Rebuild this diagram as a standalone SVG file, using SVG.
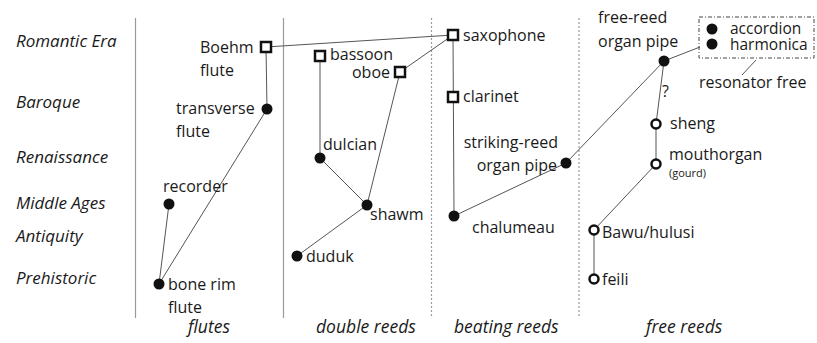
<svg xmlns="http://www.w3.org/2000/svg" width="817" height="343" viewBox="0 0 817 343">
<style>
text{font-family:"Open Sans","Liberation Sans",sans-serif;fill:#1a1a1a;font-size:16px}
.era{font-style:italic;font-size:17px}
.col{font-style:italic;font-size:17.5px}
.sm{font-size:11px}
.acc{font-size:15.5px}
.sep{stroke:#9a9a9a;stroke-width:1.2;fill:none}
.dot{stroke-dasharray:2 2}
.c line{stroke:#555;stroke-width:1}
.sq{fill:#fff;stroke:#111;stroke-width:2.5}
.fc{fill:#111}
.oc{fill:#fff;stroke:#111;stroke-width:2.5}
</style>
<rect width="817" height="343" fill="#fff"/>
<g id="eras">
<text class="era" x="16" y="47">Romantic Era</text>
<text class="era" x="16" y="108">Baroque</text>
<text class="era" x="16" y="163">Renaissance</text>
<text class="era" x="16" y="209">Middle Ages</text>
<text class="era" x="16" y="242">Antiquity</text>
<text class="era" x="16" y="284">Prehistoric</text>
</g>
<g id="separators">
<line class="sep" x1="135.5" y1="18" x2="135.5" y2="318"/>
<line class="sep" x1="283.5" y1="18" x2="283.5" y2="318"/>
<line class="sep dot" x1="431.5" y1="18" x2="431.5" y2="318"/>
<line class="sep dot" x1="579" y1="18" x2="579" y2="318"/>
</g>
<g id="columns">
<text class="col" x="188" y="333">flutes</text>
<text class="col" x="316" y="333">double reeds</text>
<text class="col" x="454" y="333">beating reeds</text>
<text class="col" x="646" y="333">free reeds</text>
</g>
<g id="connectors" class="c">
<line x1="266" y1="47" x2="453" y2="35"/>
<line x1="266" y1="47" x2="267" y2="109"/>
<line x1="267" y1="109" x2="159" y2="284"/>
<line x1="169" y1="204" x2="159" y2="284"/>
<line x1="320" y1="56" x2="320" y2="158"/>
<line x1="320" y1="158" x2="367" y2="205"/>
<line x1="400" y1="72" x2="367" y2="205"/>
<line x1="367" y1="205" x2="297" y2="256"/>
<line x1="400" y1="72" x2="453" y2="35"/>
<line x1="453" y1="35" x2="454" y2="216"/>
<line x1="454" y1="216" x2="566" y2="163"/>
<line x1="566" y1="163" x2="664" y2="61"/>
<line x1="664" y1="61" x2="700" y2="47"/>
<line x1="664" y1="61" x2="656" y2="124"/>
<line x1="656" y1="124" x2="656" y2="164"/>
<line x1="656" y1="164" x2="594" y2="230"/>
<line x1="594" y1="230" x2="594" y2="279"/>
<line x1="756" y1="60" x2="742" y2="75"/>
</g>
<g id="boehm-flute"><rect class="sq" x="261" y="42" width="10" height="10"/><text x="200" y="53">Boehm</text><text x="200" y="76">flute</text></g>
<g id="transverse-flute"><circle class="fc" cx="267" cy="109" r="5.5"/><text x="176" y="114">transverse</text><text x="176" y="137">flute</text></g>
<g id="recorder"><circle class="fc" cx="169" cy="204" r="5.5"/><text x="163" y="192">recorder</text></g>
<g id="bone-rim-flute"><circle class="fc" cx="159" cy="284" r="5.5"/><text x="168" y="290">bone rim</text><text x="168" y="313">flute</text></g>
<g id="bassoon"><rect class="sq" x="315" y="51" width="10" height="10"/><text x="330" y="60">bassoon</text></g>
<g id="oboe"><rect class="sq" x="395" y="67" width="10" height="10"/><text x="390" y="78" text-anchor="end">oboe</text></g>
<g id="dulcian"><circle class="fc" cx="320" cy="158" r="5.5"/><text x="323" y="150">dulcian</text></g>
<g id="shawm"><circle class="fc" cx="367" cy="205" r="5.5"/><text x="370" y="220">shawm</text></g>
<g id="duduk"><circle class="fc" cx="297" cy="256" r="5.5"/><text x="306" y="262">duduk</text></g>
<g id="saxophone"><rect class="sq" x="448" y="30" width="10" height="10"/><text x="463" y="41">saxophone</text></g>
<g id="clarinet"><rect class="sq" x="448" y="92" width="10" height="10"/><text x="463" y="102">clarinet</text></g>
<g id="chalumeau"><circle class="fc" cx="454" cy="216" r="5.5"/><text x="472" y="233">chalumeau</text></g>
<g id="striking-reed-organ-pipe"><circle class="fc" cx="566" cy="163" r="5.5"/><text x="558" y="148" text-anchor="end">striking-reed</text><text x="557" y="171" text-anchor="end">organ pipe</text></g>
<g id="free-reed-organ-pipe"><circle class="fc" cx="664" cy="61" r="5.5"/><text x="598" y="23">free-reed</text><text x="598" y="47">organ pipe</text><text x="662" y="97">?</text></g>
<g id="resonator-free"><rect x="699" y="17" width="115" height="41" fill="none" stroke="#444" stroke-width="1" stroke-dasharray="4 2 1 2"/><circle class="fc" cx="712" cy="29" r="5.5"/><text class="acc" x="730" y="34">accordion</text><circle class="fc" cx="712" cy="44" r="5.5"/><text class="acc" x="730" y="50">harmonica</text><text x="699" y="88">resonator free</text></g>
<g id="sheng"><circle class="oc" cx="656" cy="124" r="4.5"/><text x="670" y="129">sheng</text></g>
<g id="mouthorgan"><circle class="oc" cx="656" cy="164" r="4.5"/><text x="669" y="160">mouthorgan</text><text class="sm" x="669" y="177">(gourd)</text></g>
<g id="bawu-hulusi"><circle class="oc" cx="594" cy="230" r="4.5"/><text x="602" y="238">Bawu/hulusi</text></g>
<g id="feili"><circle class="oc" cx="594" cy="279" r="4.5"/><text x="602" y="285">feili</text></g>
</svg>
